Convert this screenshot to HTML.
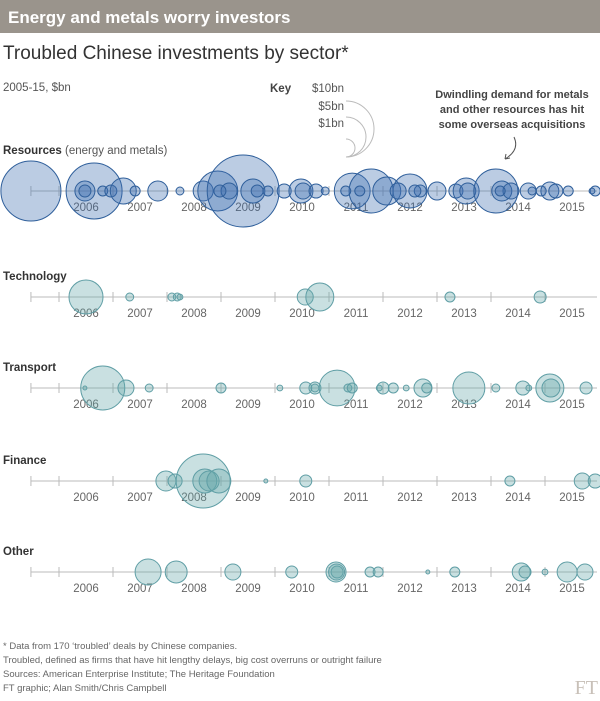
<!DOCTYPE html>
<html><head><meta charset="utf-8"><style>
body{margin:0;width:600px;height:701px;background:#fff;font-family:"Liberation Sans",sans-serif;overflow:hidden}
svg{display:block}
</style></head><body>
<svg id="c" width="600" height="701">
<rect x="0" y="0" width="600" height="33" fill="#9a948c"/>
<text x="8" y="23" font-size="17" font-weight="bold" fill="#fff">Energy and metals worry investors</text>
<text x="3" y="59" font-size="19" fill="#333">Troubled Chinese investments by sector*</text>
<text x="3" y="91" font-size="11.5" fill="#555">2005-15, $bn</text>
<g>
<text x="270" y="92" font-size="11.5" font-weight="bold" fill="#444">Key</text>
<text x="344" y="92" font-size="11.5" fill="#555" text-anchor="end">$10bn</text>
<text x="344" y="110" font-size="11.5" fill="#555" text-anchor="end">$5bn</text>
<text x="344" y="127" font-size="11.5" fill="#555" text-anchor="end">$1bn</text>
<path d="M346 101 A28 28 0 0 1 346 157" fill="none" stroke="#bbb"/>
<path d="M346 117 A20 20 0 0 1 346 157" fill="none" stroke="#bbb"/>
<path d="M346 139 A9 9 0 0 1 346 157" fill="none" stroke="#bbb"/>
</g>
<g font-size="11" font-weight="bold" fill="#444" text-anchor="middle">
<text x="512" y="98">Dwindling demand for metals</text>
<text x="512" y="113">and other resources has hit</text>
<text x="512" y="128">some overseas acquisitions</text>
</g>
<path d="M514 137 Q520 150 505 159 M505 159 l1 -5 M505 159 l5 -1" fill="none" stroke="#555"/>
<g id="rows"></g>
<g font-size="9.5" fill="#666">
<text x="3" y="649">* Data from 170 ‘troubled’ deals by Chinese companies.</text>
<text x="3" y="663">Troubled, defined as firms that have hit lengthy delays, big cost overruns or outright failure</text>
<text x="3" y="677">Sources: American Enterprise Institute; The Heritage Foundation</text>
<text x="3" y="691">FT graphic; Alan Smith/Chris Campbell</text>
</g>
<text x="598" y="694" font-size="20" font-family="Liberation Serif,serif" fill="#c8c0b8" text-anchor="end">FT</text>
</svg>
<script>
const years=[2006,2007,2008,2009,2010,2011,2012,2013,2014,2015];
const sectors=["Resources","Technology","Transport","Finance","Other"];
const resDates=[2005.48,2006.65,2006.48,2006.48,2006.81,2006.96,2007.19,2007.41,2007.83,2008.24,2008.67,2008.94,2009.41,2009.15,2009.59,2009.67,2009.87,2010.17,2010.48,2010.52,2010.76,2010.93,2011.43,2011.78,2012.07,2012.5,2012.28,2012.69,2013.0,2013.35,2013.54,2013.57,2014.09,2014.2,2014.37,2014.69,2014.76,2014.93,2015.09,2015.2,2015.43,2015.93,2015.87,2008.98,2011.31,2011.57,2012.59,2014.17];
const resValues=[11.5,10,1.28,0.46,0.32,0.46,2.16,0.32,1.28,0.2,1.28,5.1,16.5,0.82,1.84,0.46,0.32,0.63,1.84,0.82,0.63,0.2,4.1,6.2,2.5,3.7,0.82,0.46,1.03,0.63,2.16,0.82,6.2,1.28,0.82,0.82,0.2,0.32,1.03,0.63,0.32,0.32,0.11,0.46,0.32,0.32,0.46,0.32];
const techDates=[2006.5,2007.31,2008.09,2008.19,2008.24,2010.56,2010.83,2013.24,2014.91];
const techValues=[3.7,0.2,0.2,0.2,0.11,0.82,2.5,0.32,0.46];
const transDates=[2006.48,2006.81,2007.24,2007.67,2009.0,2010.09,2010.57,2010.74,2010.74,2011.15,2011.35,2011.43,2011.93,2012.0,2012.19,2012.43,2012.74,2012.81,2013.59,2014.09,2014.59,2014.7,2015.09,2015.11,2015.76];
const transValues=[0.05,6.2,0.82,0.2,0.32,0.11,0.46,0.46,0.2,4.1,0.2,0.32,0.11,0.46,0.32,0.11,1.03,0.32,3.27,0.2,0.63,0.11,2.5,1.03,0.46];
const finDates=[2007.98,2008.15,2008.67,2008.7,2008.78,2008.96,2009.83,2010.57,2014.35,2015.69,2015.93];
const finValues=[1.28,0.63,9.3,1.84,1.28,1.84,0.05,0.46,0.32,0.82,0.63];
const otherDates=[2007.65,2008.17,2009.22,2010.31,2011.13,2011.15,2011.14,2011.76,2011.91,2012.83,2013.33,2014.56,2014.63,2015.0,2015.41,2015.74];
const otherValues=[2.16,1.54,0.82,0.46,1.28,0.46,0.82,0.32,0.32,0.05,0.32,1.03,0.46,0.11,1.28,0.82];

const NS="http://www.w3.org/2000/svg";
const xScale=d=>59+(d-2006)*54;
const rScale=v=>8.85*Math.sqrt(v);
const rowY=[191,297,388,481,572];
const series=[[resDates,resValues],[techDates,techValues],[transDates,transValues],[finDates,finValues],[otherDates,otherValues]];
const g=document.getElementById('rows');
function mk(t,a){const e=document.createElementNS(NS,t);for(const k in a)e.setAttribute(k,a[k]);return e;}
sectors.forEach((s,i)=>{
  const y=rowY[i];
  const row=mk('g',{});
  
  
  const lab=mk('text',{x:3,y:y-(i==0?37:17),'font-size':11.5,fill:'#333'});
  
  
  lab.innerHTML='<tspan font-weight="bold">'+s+'</tspan>'+(i==0?'<tspan fill="#555"> (energy and metals)</tspan>':'');
  row.appendChild(lab);
  const ax=mk('line',{x1:31,x2:597,y1:y,y2:y,stroke:'#bbb'});
  
  
  row.appendChild(ax);
  [2005.48].concat(years).forEach(yr=>{
    const t=mk('line',{x1:xScale(yr),x2:xScale(yr),y1:y-5,y2:y+5,stroke:'#bbb'});
    
    
    row.appendChild(t);
  });
  years.forEach(yr=>{
    const t=mk('text',{x:xScale(yr+0.5),y:y+20,'font-size':11.5,fill:'#666','text-anchor':'middle'});
    t.textContent=yr;
    
    
    row.appendChild(t);
  });
  const [ds,vs]=series[i];
  const fill=i==0?'rgba(60,110,175,0.35)':'rgba(100,165,170,0.35)';
  const st=i==0?'#2f5f9b':'#5f9ea5';
  ds.forEach((d,j)=>{
    const c=mk('circle',{cx:xScale(d),cy:y,r:rScale(vs[j]),fill:fill,stroke:st,'stroke-width':1});
    
    
    row.appendChild(c);
  });
  g.appendChild(row);
});
</script>
</body></html>
